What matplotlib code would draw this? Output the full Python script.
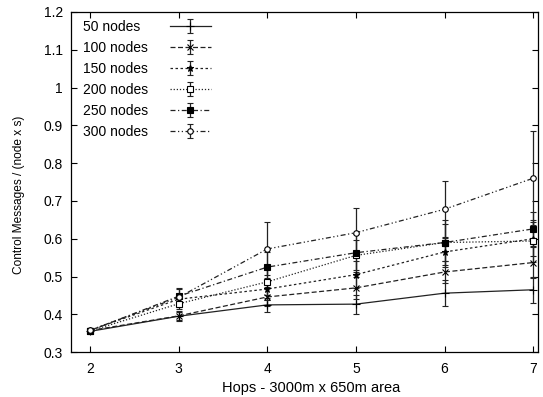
import matplotlib
matplotlib.use("Agg")
import matplotlib.pyplot as plt
from matplotlib.lines import Line2D
from matplotlib.ticker import FormatStrFormatter, MultipleLocator

plt.rcParams['font.family'] = ['Liberation Sans', 'DejaVu Sans']

hops = [2, 3, 4, 5, 6, 7]
labels = ["50 nodes", "100 nodes", "150 nodes", "200 nodes", "250 nodes", "300 nodes"]

n50 = [0.355, 0.395, 0.425, 0.427, 0.456, 0.465]
n100 = [0.357, 0.396, 0.446, 0.470, 0.512, 0.537]
n150 = [0.358, 0.440, 0.467, 0.505, 0.565, 0.600]
n200 = [0.356, 0.428, 0.486, 0.556, 0.590, 0.594]
n250 = [0.357, 0.448, 0.525, 0.563, 0.590, 0.626]
n300 = [0.358, 0.445, 0.573, 0.616, 0.678, 0.760]

e50 = [0.005, 0.012, 0.018, 0.025, 0.035, 0.035]
e100 = [0.005, 0.012, 0.025, 0.030, 0.030, 0.040]
e150 = [0.005, 0.015, 0.030, 0.035, 0.040, 0.045]
e200 = [0.005, 0.015, 0.035, 0.040, 0.050, 0.055]
e250 = [0.005, 0.020, 0.040, 0.050, 0.060, 0.045]
e300 = [0.005, 0.025, 0.070, 0.065, 0.075, 0.125]

series = [n50, n100, n150, n200, n250, n300]
errors = [e50, e100, e150, e200, e250, e300]

styles = [
    dict(ls='-', marker='+', mfc='black', ms=6),
    dict(ls=(0, (4, 2)), marker='x', mfc='black', ms=4),
    dict(ls=(0, (2, 2)), marker='*', mfc='black', ms=5),
    dict(ls=(0, (1, 1.5)), marker='s', mfc='white', ms=4),
    dict(ls=(0, (4, 2, 1, 2)), marker='s', mfc='black', ms=4.5),
    dict(ls=(0, (4, 2, 1, 2, 1, 2)), marker='o', mfc='white', ms=4),
]

fig = plt.figure(figsize=(5.43, 3.97), dpi=100)
ax = fig.add_axes([0.131, 0.113, 0.860, 0.857])

handles = []
for vals, err, lab, st in zip(series, errors, labels, styles):
    h = ax.errorbar(hops, vals, yerr=err, color='#222222', lw=0.9, elinewidth=0.9,
                    capsize=2, capthick=0.8, mec='black', mew=0.8, label=lab, **st)
    handles.append(h)

ax.set_xlim(1.786, 7.056)
ax.set_ylim(0.3, 1.2)
ax.xaxis.set_major_locator(MultipleLocator(1))
ax.yaxis.set_major_locator(MultipleLocator(0.1))
ax.yaxis.set_major_formatter(FormatStrFormatter('%g'))
ax.tick_params(direction='in', top=True, right=True, labelsize=10, length=4)
ax.tick_params(axis='x', pad=7)
ax.tick_params(axis='y', pad=6)
for s in ax.spines.values():
    s.set_linewidth(0.9)

ax.set_xlabel("Hops - 3000m x 650m area", fontsize=10.5)
ax.xaxis.set_label_coords(0.514, -0.085)
ax.set_ylabel("Control Messages / (node x s)", fontsize=8.6)
ax.yaxis.set_label_coords(-0.0985, 0.462)

# gnuplot-style key: labels left aligned, samples to the right
leg_kw = dict(loc='upper left', frameon=False, fontsize=10, labelspacing=0.5,
              borderaxespad=0.2, bbox_to_anchor=(0.0065, 1.0))
samples = ax.legend(handles, labels, markerfirst=False, handlelength=2.95,
                    handletextpad=1.6, **leg_kw)
for t in samples.get_texts():
    t.set_alpha(0)
ax.add_artist(samples)
blank = [Line2D([], [], lw=0) for _ in labels]
ax.legend(blank, labels, handlelength=0, handletextpad=0, **leg_kw)

fig.savefig("out.png", dpi=100)
